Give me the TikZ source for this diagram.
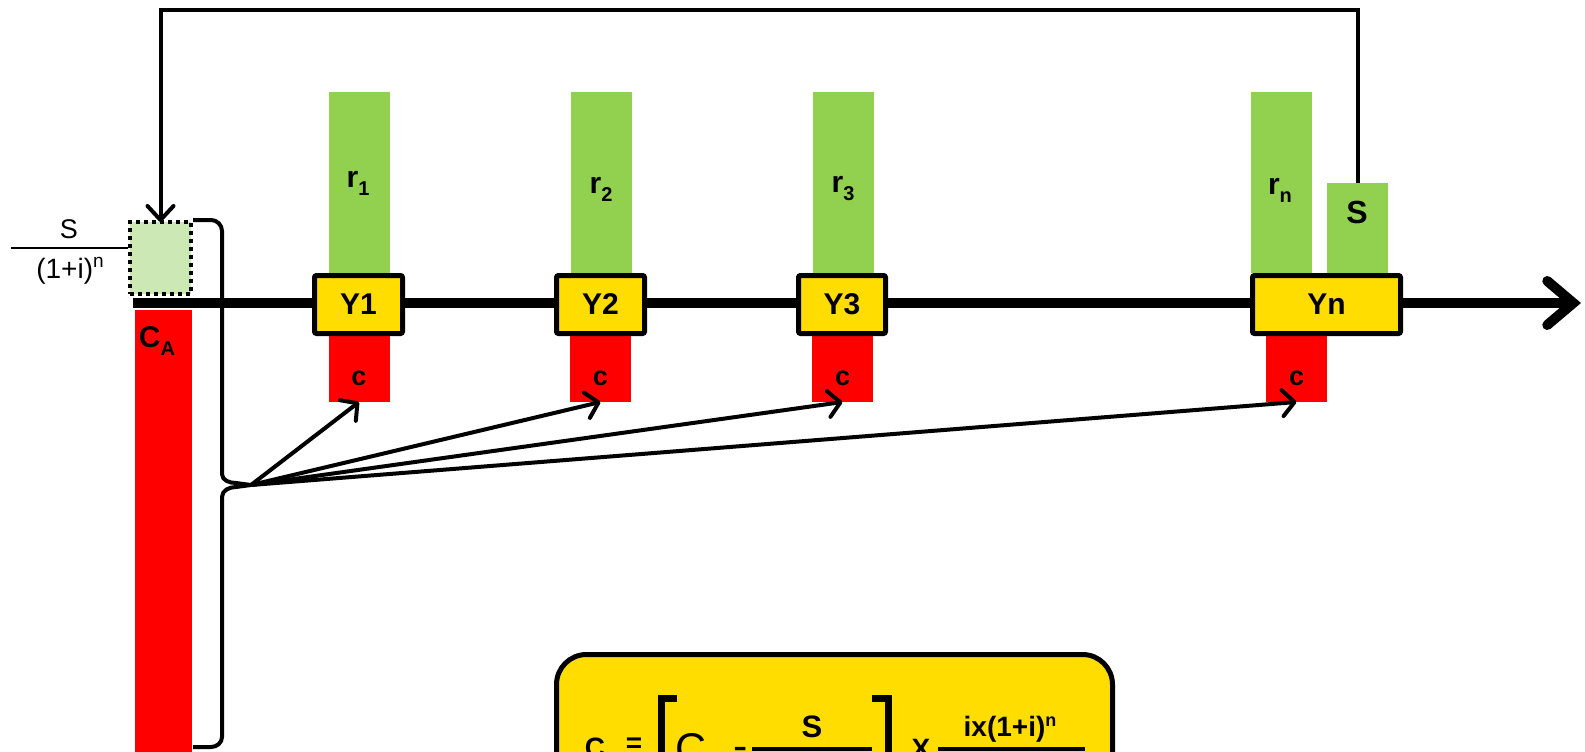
\documentclass[tikz,border=0pt]{standalone}
\usepackage{fontspec}
\setmainfont{Liberation Sans}
\usetikzlibrary{arrows.meta}
\definecolor{barGreen}{HTML}{92D050}
\definecolor{paleGreen}{HTML}{CCE8B4}
\definecolor{barRed}{HTML}{FF0000}
\definecolor{gold}{HTML}{FFDD00}
\newcommand{\fsz}[1]{\fontsize{#1}{#1}\selectfont}
\newcommand{\lowsub}[1]{\raisebox{-8pt}{\fsz{20}#1}}
\newcommand{\highsup}[2]{\raisebox{#1}{\fsz{19}#2}}

\begin{document}
\begin{tikzpicture}[x=1pt,y=-1pt,
  bar/.style={draw=none,inner sep=0,outer sep=0,minimum width=61pt},
  greenbar/.style={bar,fill=barGreen},
  redbar/.style={bar,fill=barRed,minimum height=66pt},
  yearbox/.style={draw,line width=5pt,fill=gold,rounded corners=2pt,inner sep=0,
    outer sep=0,minimum height=58pt,font=\fsz{30}\bfseries},
  lbl/.style={inner sep=0,font=\fsz{30}\bfseries},
  clbl/.style={inner sep=0,font=\fsz{27}\bfseries},
  plain/.style={inner sep=0,font=\fsz{28}},
  feed/.style={line width=4pt,line cap=round,-{Straight Barb[length=12pt,width=26pt,round]}},
  formula/.style={inner sep=0,anchor=base},
]
\useasboundingbox (0,0) rectangle (1585,752);
\clip (0,0) rectangle (1585,752);

% present value of the final payment S
\node[plain,font=\fsz{27}] (sNum) at (69,229) {S};
\draw[line width=1.5pt] (11,248) -- (128,248);
\node[plain] (sDen) at (70,271) {(1+i)\highsup{11pt}{n}};

% borrowed capital C_A
\node[bar,fill=barRed,minimum width=57pt,minimum height=450pt] (capA) at (163.5,535) {};
\node[lbl] (capAlbl) at (157,341) {C\lowsub{A}};

% discounted S, dotted box
\node[draw,fill=paleGreen,line width=4pt,dash pattern=on 4pt off 4pt,inner sep=0,outer sep=0,
  minimum width=61pt,minimum height=72pt] (pvS) at (160.5,258) {};

% yearly payments r (green) and constant c (red)
\node[greenbar,minimum height=181pt] (r1) at (359.5,182.5) {};
\node[greenbar,minimum height=181pt] (r2) at (601.5,182.5) {};
\node[greenbar,minimum height=181pt] (r3) at (843.5,182.5) {};
\node[greenbar,minimum height=181pt] (rn) at (1281.5,182.5) {};
\node[greenbar,minimum height=90pt] (sBar) at (1357.5,228) {};

\node[redbar] (c1) at (359,369) {};
\node[redbar] (c2) at (600.5,369) {};
\node[redbar] (c3) at (842.5,369) {};
\node[redbar] (cn) at (1296.5,369) {};

\node[lbl] at (358,183) {r\lowsub{1}};
\node[lbl] at (601,189) {r\lowsub{2}};
\node[lbl] at (843,189) {r\lowsub{3}};
\node[lbl] at (1280,190) {r\lowsub{n}};
\node[lbl,font=\fsz{32}\bfseries] at (1357,212) {S};

\node[clbl] at (359,378) {c};
\node[clbl] at (600.5,378) {c};
\node[clbl] at (842.5,378) {c};
\node[clbl] at (1296.5,378) {c};

% time axis
\coordinate (axisStart) at (133,303);
\coordinate (axisEnd) at (1581,303);
\draw[line width=10pt,line cap=butt,-{Straight Barb[length=26pt,width=44pt,line cap=round]}]
  (axisStart) -- (axisEnd);

% years
\node[yearbox,minimum width=88pt] (y1) at (358.5,304.5) {Y1};
\node[yearbox,minimum width=88pt] (y2) at (600.5,304.5) {Y2};
\node[yearbox,minimum width=87pt] (y3) at (842,304.5) {Y3};
\node[yearbox,minimum width=148pt] (yn) at (1326.5,304.5) {Yn};

% S carried back to the start
\draw[line width=4pt,line join=miter,-{Straight Barb[length=14pt,width=26pt,round]}]
  (sBar.north) -- ++(0,-173) -| (pvS.north);

% brace over the capital
\coordinate (tip) at (251,485);
\draw[line width=4pt,line join=round]
  (193,220) -- (211,220) to[out=0,in=90] (222,231) -- (222,474)
  to[out=-90,in=180] (236,483) -- (tip) -- (236,487)
  to[out=180,in=90] (222,497) -- (222,737)
  to[out=-90,in=0] (211,747) -- (193,747);

\draw[feed] (tip) -- (c1.south);
\draw[feed] (tip) -- (c2.south);
\draw[feed] (tip) -- (c3.south);
\draw[feed] (tip) -- (cn.south);

% formula box
\node[draw,line width=5pt,fill=gold,rounded corners=30pt,inner sep=0,outer sep=0,
  minimum width=556pt,minimum height=196pt] (fbox) at (834.5,752.5) {};
\node[formula,font=\fsz{28}\bfseries] (fC) at (595,757) {C};
\node[formula,font=\fsz{28}\bfseries] (fEq) at (634,752) {=};
\draw[line width=7pt,line join=miter] (677,698) -- (661,698) -- (661,800);
\node[formula,font=\fsz{43}] (fCA) at (700,763) {C\raisebox{-9pt}{\fsz{26}A}};
\node[formula,font=\fsz{43}] (fMinus) at (741,760) {-};
\draw[line width=4pt] (752,749) -- (872,749);
\node[formula,font=\fsz{31}\bfseries] (fS) at (812,737) {S};
\draw[line width=7pt,line join=miter] (872,698) -- (888,698) -- (888,800);
\node[formula,font=\fsz{28}\bfseries] (fX) at (921,758) {X};
\draw[line width=4pt] (938,749) -- (1085,749);
\node[formula,font=\fsz{28}\bfseries] (fNum) at (1010,736) {ix(1+i)\raisebox{10pt}{\fsz{18}n}};
\end{tikzpicture}
\end{document}
